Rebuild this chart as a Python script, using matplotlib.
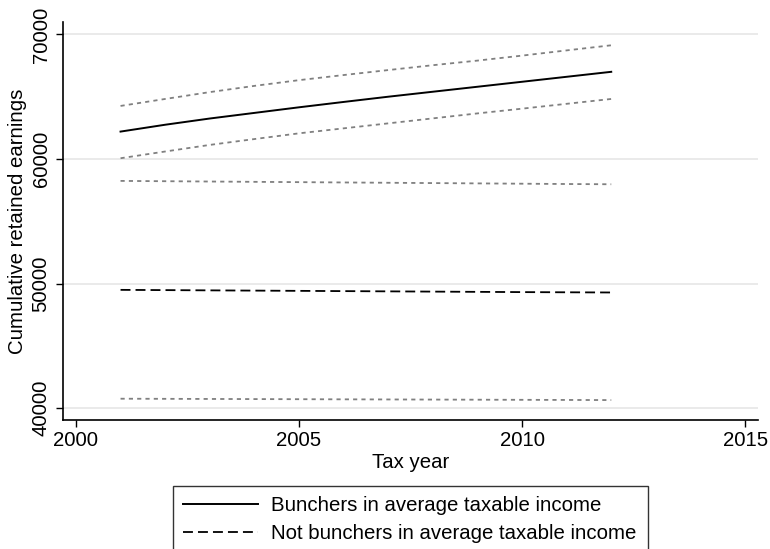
import numpy as np
import matplotlib.pyplot as plt

plt.rcParams['font.family'] = ['Liberation Sans', 'DejaVu Sans']

# Tax years covered
years = [2001, 2002, 2003, 2004, 2005, 2006, 2007, 2008, 2009, 2010, 2011, 2012]

# Bunchers: point estimate and confidence band
bunch_mean = [62200, 62750, 63250, 63700, 64150, 64580, 65000, 65400, 65800, 66200, 66600, 67000]
bunch_hi = [64260, 64820, 65370, 65870, 66330, 66740, 67140, 67530, 67900, 68300, 68720, 69130]
bunch_lo = [60060, 60600, 61130, 61600, 62060, 62460, 62860, 63260, 63660, 64040, 64430, 64820]

# Not bunchers: point estimate and confidence band
other_mean = [49490, 49470, 49450, 49430, 49410, 49390, 49370, 49350, 49330, 49310, 49295, 49280]
other_hi = [58240, 58215, 58190, 58165, 58140, 58115, 58090, 58065, 58040, 58015, 57990, 57970]
other_lo = [40750, 40740, 40730, 40720, 40710, 40700, 40690, 40680, 40670, 40660, 40650, 40640]

x_ticks = [2000, 2005, 2010, 2015]
y_ticks = [40000, 50000, 60000, 70000]

FS = 14.7

fig = plt.figure(figsize=(7.7, 5.49), dpi=100)
ax = fig.add_axes([63 / 770, 1 - 420 / 549, (758 - 63) / 770, (420 - 22) / 549])

ci_style = dict(color='#808080', lw=1.3, linestyle=(0, (2.3, 2.3)))

ax.plot(years, bunch_hi, **ci_style)
ax.plot(years, bunch_lo, **ci_style)
ax.plot(years, other_hi, **ci_style)
ax.plot(years, other_lo, **ci_style)
l1, = ax.plot(years, bunch_mean, color='black', lw=1.4,
              label='Bunchers in average taxable income')
l2, = ax.plot(years, other_mean, color='black', lw=1.3, linestyle=(0, (5.5, 2.8)),
              label='Not bunchers in average taxable income')

ax.set_xlim(1999.71, 2015.29)
ax.set_ylim(39040, 71000)
ax.set_xticks(x_ticks)
ax.set_yticks(y_ticks)
ax.tick_params(axis='both', labelsize=FS, length=5, width=1, direction='out')
ax.tick_params(axis='x', pad=3)
ax.tick_params(axis='y', pad=4)
plt.setp(ax.get_yticklabels(), rotation=90, va='center')
ax.grid(axis='y', color='#e6e6e6', lw=1.2)
ax.set_axisbelow(True)

for side in ['top', 'right']:
    ax.spines[side].set_visible(False)
for side in ['left', 'bottom']:
    ax.spines[side].set_linewidth(1.2)

ax.set_xlabel('Tax year', fontsize=FS, labelpad=2)
ax.set_ylabel('Cumulative retained earnings', fontsize=FS, labelpad=3)

# legend box hangs off the bottom edge of the figure
leg_top = 1 - 486 / 549
leg = fig.legend(handles=[l1, l2], loc='upper left',
                 bbox_to_anchor=(173 / 770, -0.3, (648 - 173) / 770, leg_top + 0.3),
                 mode='expand', fontsize=FS, frameon=True, fancybox=False,
                 handlelength=3.68, handletextpad=0.64, borderpad=0.5,
                 labelspacing=0.45, borderaxespad=0)
leg.get_frame().set_edgecolor('black')
leg.get_frame().set_linewidth(1.0)

fig.savefig('out.png', dpi=100)
